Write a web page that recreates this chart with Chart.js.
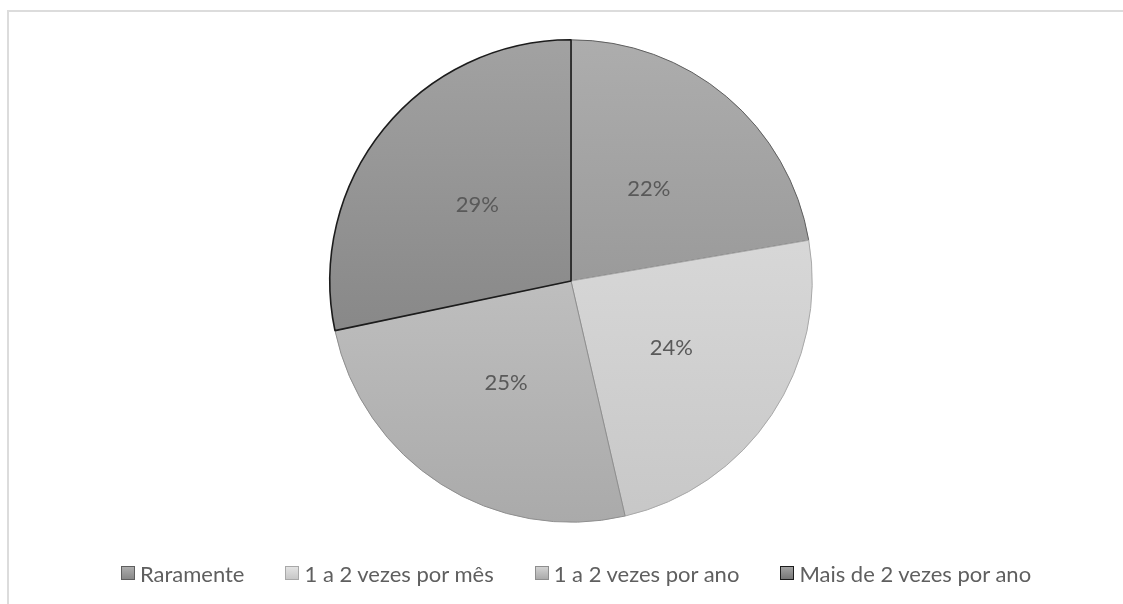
<!DOCTYPE html>
<html>
<head>
<meta charset="utf-8">
<script src="https://cdn.jsdelivr.net/npm/chart.js@4/dist/chart.umd.min.js"></script>
<style>
  html, body { margin: 0; padding: 0; background: #fff; }
  #wrap { position: relative; width: 1123px; height: 604px; overflow: hidden; }
  #frame { position: absolute; left: 7px; top: 10px; width: 1130px; height: 610px;
           border-left: 2px solid #dcdcdc; border-top: 2px solid #dcdcdc; }
  #chart { position: absolute; left: 0; top: 0; }
  #legend { position: absolute; left: 0; width: 1152px; top: 561px; height: 24px;
            display: flex; justify-content: center; align-items: center; gap: 41px;
            font-family: Lato, sans-serif; font-size: 22px; color: #5f5f5f; }
  .item { display: flex; align-items: center; white-space: nowrap; }
  .box { width: 12px; height: 12px; margin-right: 5px; box-sizing: content-box; }
</style>
</head>
<body>
<div id="wrap">
  <div id="frame"></div>
  <canvas id="chart" width="1123" height="604"></canvas>
  <div id="legend"></div>
</div>
<script>
// Dados
const categorias = ['Raramente', '1 a 2 vezes por mês', '1 a 2 vezes por ano', 'Mais de 2 vezes por ano'];
const valores = [22.3, 24.1, 25.3, 28.3];
const rotulos = ['22%', '24%', '25%', '29%'];

// Cores (gradiente de cima para baixo)
const corTopo = ['#adadad', '#e3e3e3', '#d2d2d2', '#a2a2a2'];
const corBase = ['#888888', '#c7c7c7', '#aaaaaa', '#777777'];
const corBorda = ['#5e5e5e', '#a8a8a8', '#8e8e8e', '#1c1c1c'];
const larguraBorda = [1, 1, 1, 1.6];

function gradiente(ctx, i) {
    const area = ctx.chart.chartArea;
    if (!area) return corTopo[i];
    const g = ctx.chart.ctx.createLinearGradient(0, area.top, 0, area.bottom);
    g.addColorStop(0, corTopo[i]);
    g.addColorStop(1, corBase[i]);
    return g;
}

// Rótulos de porcentagem dentro das fatias
const rotulosPlugin = {
    id: 'rotulos',
    afterDatasetsDraw(chart) {
        const c = chart.ctx;
        const meta = chart.getDatasetMeta(0);
        c.save();
        c.font = '22px Lato, sans-serif';
        c.fillStyle = '#595959';
        c.textAlign = 'center';
        c.textBaseline = 'middle';
        meta.data.forEach((arc, i) => {
            const p = arc.tooltipPosition();
            c.fillText(rotulos[i], p.x, p.y);
        });
        c.restore();
    }
};

new Chart(document.getElementById('chart'), {
    type: 'pie',
    data: {
        labels: categorias,
        datasets: [{
            data: valores,
            backgroundColor: ctx => gradiente(ctx, ctx.dataIndex),
            borderColor: corBorda,
            borderWidth: larguraBorda
        }]
    },
    options: {
        responsive: false,
        animation: false,
        layout: { padding: { left: 19, right: 0, top: 39, bottom: 81 } },
        plugins: {
            legend: { display: false },
            tooltip: { enabled: false }
        }
    },
    plugins: [rotulosPlugin]
});

// Legenda
const legenda = document.getElementById('legend');
categorias.forEach((nome, i) => {
    const item = document.createElement('div');
    item.className = 'item';
    const box = document.createElement('span');
    box.className = 'box';
    box.style.background = `linear-gradient(${corTopo[i]}, ${corBase[i]})`;
    box.style.border = `1px solid ${corBorda[i]}`;
    const txt = document.createElement('span');
    txt.textContent = nome;
    item.appendChild(box);
    item.appendChild(txt);
    legenda.appendChild(item);
});
</script>
</body>
</html>
